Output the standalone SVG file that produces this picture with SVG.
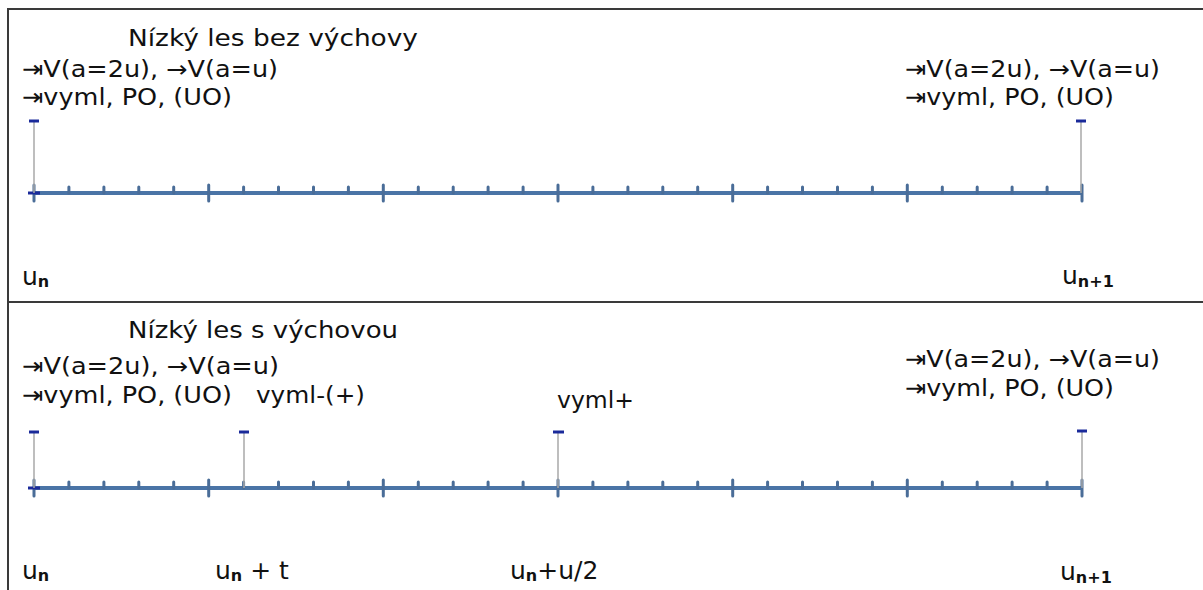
<svg xmlns="http://www.w3.org/2000/svg" xmlns:xlink="http://www.w3.org/1999/xlink" width="1203" height="590" viewBox="0 0 1203 590">
<style>
.t{font-family:"DejaVu Sans","Verdana",sans-serif;font-size:23px;fill:#111}
.u{font-size:25px}
.s{font-size:16px;font-weight:bold}
.frame{stroke:#3a3a3a;stroke-width:2;fill:none}
.ax{stroke:#4a74a6;stroke-width:4;fill:none}
.tk{stroke:#4a6d98;stroke-width:3;fill:none;stroke-linecap:round}
.stem{stroke:#a8a8a8;stroke-width:1.5}
.dash{stroke:#1a2a9a;stroke-width:3}
</style>
<defs>
<g id="axis">
<line class="ax" x1="34" y1="0" x2="1083" y2="0"/>
<path class="tk" d="M68.9 -6V0M103.9 -6V0M138.8 -6V0M173.7 -6V0M243.6 -6V0M278.5 -6V0M313.5 -6V0M348.4 -6V0M418.3 -6V0M453.2 -6V0M488.1 -6V0M523.1 -6V0M592.9 -6V0M627.9 -6V0M662.8 -6V0M697.7 -6V0M767.6 -6V0M802.5 -6V0M837.5 -6V0M872.4 -6V0M942.3 -6V0M977.2 -6V0M1012.1 -6V0M1047.1 -6V0"/>
<path class="tk" d="M34 -8V8M208.7 -8V8M383.3 -8V8M558 -8V8M732.7 -8V8M907.3 -8V8M1082 -8V8"/>
<line stroke="#1a2a9a" stroke-width="3" x1="28" y1="0" x2="40" y2="0"/>
</g>
</defs>
<g id="frame">
<path class="frame" d="M8 590V9H1203M8 302H1203"/>
</g>
<g id="top">
<use xlink:href="#axis" y="193"/>
<line class="stem" x1="34" y1="121" x2="34" y2="193"/>
<line class="stem" x1="1081" y1="121" x2="1081" y2="193"/>
<line class="dash" x1="29" y1="121" x2="39" y2="121"/>
<line class="dash" x1="1076" y1="121" x2="1086" y2="121"/>
<text class="t" x="128" y="46" textLength="290" lengthAdjust="spacingAndGlyphs">Nízký les bez výchovy</text>
<text class="t" x="22" y="77" textLength="256" lengthAdjust="spacingAndGlyphs">⇥V(a=2u), →V(a=u)</text>
<text class="t" x="22" y="105" textLength="210" lengthAdjust="spacingAndGlyphs">⇥vyml, PO, (UO)</text>
<text class="t" x="905" y="77" textLength="255" lengthAdjust="spacingAndGlyphs">⇥V(a=2u), →V(a=u)</text>
<text class="t" x="905" y="105" textLength="209" lengthAdjust="spacingAndGlyphs">⇥vyml, PO, (UO)</text>
<text class="t u" x="22" y="285">u<tspan class="s" dy="2">n</tspan></text>
<text class="t u" x="1062" y="284">u<tspan class="s" dy="3">n+1</tspan></text>
</g>
<g id="bottom">
<use xlink:href="#axis" y="488"/>
<line class="stem" x1="34" y1="432" x2="34" y2="488"/>
<line class="stem" x1="244" y1="432" x2="244" y2="488"/>
<line class="stem" x1="558" y1="432" x2="558" y2="488"/>
<line class="stem" x1="1082" y1="432" x2="1082" y2="488"/>
<line class="dash" x1="29" y1="432" x2="39" y2="432"/>
<line class="dash" x1="239" y1="432" x2="249" y2="432"/>
<line class="dash" x1="553" y1="432" x2="564" y2="432"/>
<line class="dash" x1="1077" y1="431" x2="1087" y2="431"/>
<text class="t" x="128" y="338" textLength="270" lengthAdjust="spacingAndGlyphs">Nízký les s výchovou</text>
<text class="t" x="22" y="374" textLength="257" lengthAdjust="spacingAndGlyphs">⇥V(a=2u), →V(a=u)</text>
<text class="t" x="22" y="403" textLength="210" lengthAdjust="spacingAndGlyphs">⇥vyml, PO, (UO)</text>
<text class="t" x="256" y="403" textLength="109" lengthAdjust="spacingAndGlyphs">vyml-(+)</text>
<text class="t" x="557" y="408" textLength="77" lengthAdjust="spacingAndGlyphs">vyml+</text>
<text class="t" x="905" y="367" textLength="255" lengthAdjust="spacingAndGlyphs">⇥V(a=2u), →V(a=u)</text>
<text class="t" x="905" y="396" textLength="209" lengthAdjust="spacingAndGlyphs">⇥vyml, PO, (UO)</text>
<text class="t u" x="22" y="579">u<tspan class="s" dy="2">n</tspan></text>
<text class="t u" x="215" y="579">u<tspan class="s" dy="2">n</tspan><tspan dy="-2"> + t</tspan></text>
<text class="t u" x="510" y="579">u<tspan class="s" dy="2">n</tspan><tspan dy="-2">+u/2</tspan></text>
<text class="t u" x="1060" y="580">u<tspan class="s" dy="3">n+1</tspan></text>
</g>
</svg>
